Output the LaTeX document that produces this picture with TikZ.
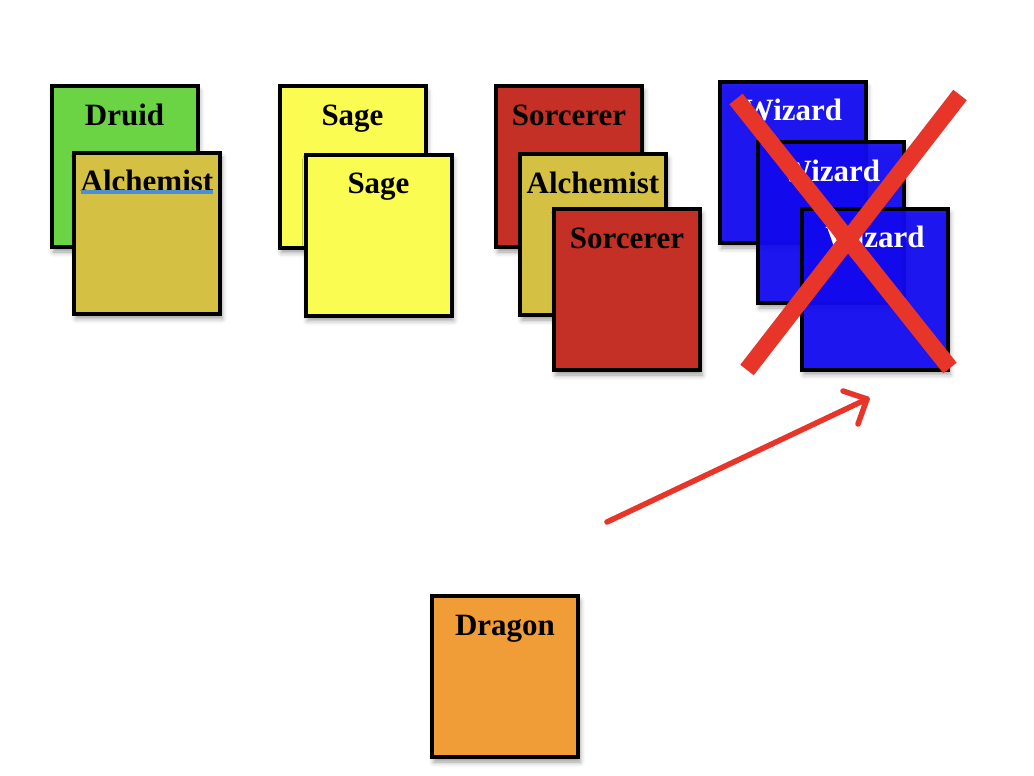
\documentclass[tikz,border=0pt]{standalone}
\usepackage{fontspec}
\setmainfont{Liberation Serif}
\usetikzlibrary{arrows.meta,shadows.blur}
\definecolor{druidc}{RGB}{106,212,68}
\definecolor{alchc}{RGB}{212,192,67}
\definecolor{sagec}{RGB}{251,252,81}
\definecolor{sorcc}{RGB}{196,48,38}
\definecolor{wizc}{RGB}{18,10,245}
\definecolor{dragc}{RGB}{240,157,56}
\definecolor{xred}{RGB}{232,53,42}
\definecolor{ulblue}{RGB}{74,144,217}
\tikzset{
  card/.style={draw=black, line width=4pt, minimum width=146pt, minimum height=161pt,
    inner sep=0pt, blur shadow={shadow xshift=2pt, shadow yshift=-5pt, shadow blur radius=5pt, shadow opacity=40}},
  lbl/.style={anchor=base, font=\fontsize{31}{31}\selectfont\bfseries, inner sep=0pt},
  wlbl/.style={lbl, text=white},
  cross/.style={draw=xred, line width=17pt},
  redarrow/.style={draw=xred, line width=5.5pt, line cap=round, line join=round},
  uline/.style={draw=ulblue, line width=3.5pt},
}
\begin{document}
\begin{tikzpicture}[x=1pt,y=-1pt]
\useasboundingbox (0,0) rectangle (1034,776);
% Druid / Alchemist
\node[card, fill=druidc] (druid) at (124.5,166.5) {};
\node[lbl] (druidt) at ([yshift=-41pt]druid.north) {Druid};
\node[card, fill=alchc] (alc1) at (147,233) {};
\node[lbl] (alc1t) at ([yshift=-41pt]alc1.north) {Alchemist};
\draw[uline] ([yshift=-0.5pt]alc1t.base west) -- ([yshift=-0.5pt]alc1t.base east);
% Sage
\node[card, fill=sagec] (sage1) at (352.5,167) {};
\node[lbl] (sage1t) at ([yshift=-41pt]sage1.north) {Sage};
\node[card, fill=sagec] (sage2) at (378.5,235) {};
\node[lbl] (sage2t) at ([yshift=-41pt]sage2.north) {Sage};
% Sorcerer / Alchemist / Sorcerer
\node[card, fill=sorcc] (sorc1) at (569,166.5) {};
\node[lbl] (sorc1t) at ([yshift=-41pt]sorc1.north) {Sorcerer};
\node[card, fill=alchc] (alc2) at (593,234.5) {};
\node[lbl] (alc2t) at ([yshift=-41pt]alc2.north) {Alchemist};
\node[card, fill=sorcc] (sorc2) at (627,289.5) {};
\node[lbl] (sorc2t) at ([yshift=-41pt]sorc2.north) {Sorcerer};
% Wizards
\node[card, fill=wizc, fill opacity=0.92] (wiz1) at (792.5,162.5) {};
\node[wlbl] (wiz1t) at ([yshift=-41pt]wiz1.north) {Wizard};
\node[card, fill=wizc, fill opacity=0.92] (wiz2) at (830.5,222.5) {};
\node[wlbl] (wiz2t) at ([yshift=-41pt]wiz2.north) {Wizard};
\node[card, fill=wizc, fill opacity=0.92] (wiz3) at (875,289) {};
\node[wlbl] (wiz3t) at ([yshift=-41pt]wiz3.north) {Wizard};
% Cross
\coordinate (x1a) at (736,99);
\coordinate (x1b) at (950,368);
\coordinate (x2a) at (960,95);
\coordinate (x2b) at (747,370);
\draw[cross] (x1a) -- (x1b);
\draw[cross] (x2a) -- (x2b);
% Arrow
\coordinate (arrs) at (607,522);
\coordinate (arre) at (867,399);
\coordinate (wing1) at (843,391);
\coordinate (wing2) at (858,424);
\draw[redarrow] (arrs) -- (arre);
\draw[redarrow] (wing1) -- (arre) -- (wing2);
% Dragon
\node[card, fill=dragc] (dragon) at (505,676.5) {};
\node[lbl] (dragont) at ([yshift=-41pt]dragon.north) {Dragon};
\end{tikzpicture}
\end{document}
